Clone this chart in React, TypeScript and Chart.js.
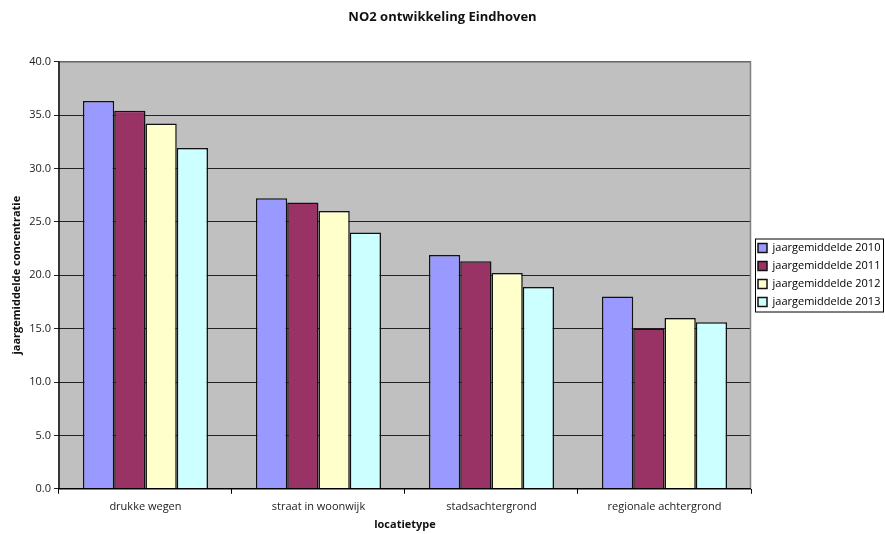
import React, { useEffect, useRef } from "react";
import { Chart, registerables } from "chart.js";

Chart.register(...registerables);

const categories = ["drukke wegen", "straat in woonwijk", "stadsachtergrond", "regionale achtergrond"];
const seriesLabels = ["jaargemiddelde 2010", "jaargemiddelde 2011", "jaargemiddelde 2012", "jaargemiddelde 2013"];
const values2010 = [36.3, 27.2, 21.9, 18.0];
const values2011 = [35.4, 26.8, 21.3, 15.0];
const values2012 = [34.2, 26.0, 20.2, 16.0];
const values2013 = [31.9, 24.0, 18.9, 15.6];
const seriesColors = ["#9999FF", "#993366", "#FFFFCC", "#CCFFFF"];

const FONT = "'Open Sans', 'DejaVu Sans', sans-serif";

const plotBg = {
  id: "plotBg",
  beforeDraw(chart: any) {
    const { ctx, chartArea: a } = chart;
    ctx.save();
    ctx.fillStyle = "#C0C0C0";
    ctx.fillRect(a.left, a.top, a.right - a.left, a.bottom - a.top);
    ctx.restore();
  },
  afterDatasetsDraw(chart: any) {
    const { ctx, chartArea: a } = chart;
    ctx.save();
    ctx.strokeStyle = "#808080";
    ctx.lineWidth = 1.5;
    ctx.beginPath();
    ctx.moveTo(a.left, a.top + 0.5);
    ctx.lineTo(a.right - 0.5, a.top + 0.5);
    ctx.lineTo(a.right - 0.5, a.bottom);
    ctx.stroke();
    ctx.strokeStyle = "#000";
    ctx.lineWidth = 1.5;
    ctx.beginPath();
    ctx.moveTo(a.left, a.top);
    ctx.lineTo(a.left, a.bottom);
    ctx.lineTo(a.right, a.bottom);
    ctx.stroke();
    ctx.restore();
  },
};

const legendBorder = {
  id: "legendBorder",
  afterDraw(chart: any) {
    const l = chart.legend;
    if (!l || !l.legendHitBoxes || !l.legendHitBoxes.length) return;
    const boxes = l.legendHitBoxes;
    const first = boxes[0];
    const last = boxes[boxes.length - 1];
    const left = first.left - 3;
    const top = first.top - 4;
    const bottom = last.top + last.height + 4;
    const right = chart.width - 1;
    const { ctx } = chart;
    ctx.save();
    ctx.strokeStyle = "#000";
    ctx.lineWidth = 1;
    ctx.strokeRect(left + 0.5, top + 0.5, right - left - 1, bottom - top);
    ctx.restore();
  },
};

export default function App() {
  const ref = useRef<HTMLCanvasElement>(null);
  useEffect(() => {
    const seriesValues = [values2010, values2011, values2012, values2013];
    const chart = new Chart(ref.current!, {
      type: "bar",
      data: {
        labels: categories,
        datasets: seriesLabels.map((label, i) => ({
          label,
          data: seriesValues[i],
          backgroundColor: seriesColors[i],
          borderColor: "#111",
          borderWidth: 1.5,
          categoryPercentage: 0.723,
          barPercentage: 1,
        })),
      },
      options: {
        animation: false,
        responsive: false,
        layout: { padding: { left: 0, right: 0, top: 0, bottom: 2 } },
        plugins: {
          title: {
            display: true,
            text: "NO2 ontwikkeling Eindhoven",
            color: "#111",
            font: { family: FONT, size: 13, weight: "bold" },
            padding: { top: 9, bottom: 37 },
          },
          legend: {
            position: "right",
            maxWidth: 134,
            title: { display: true, text: " ", font: { size: 10 }, padding: 3 },
            labels: {
              color: "#000",
              font: { family: FONT, size: 11 },
              boxWidth: 9,
              boxHeight: 9,
              padding: 7,
            },
          },
          tooltip: { enabled: false },
        },
        scales: {
          x: {
            grid: {
              drawOnChartArea: false,
              drawTicks: true,
              tickLength: 5,
              color: "#000",
              offset: true,
            },
            border: { display: false },
            ticks: { color: "#222", font: { family: FONT, size: 11 }, padding: 6 },
            title: {
              display: true,
              text: "locatietype",
              color: "#111",
              font: { family: FONT, size: 11, weight: "bold", lineHeight: 1 },
              padding: { top: 0, bottom: 2 },
            },
          },
          y: {
            min: 0,
            max: 40,
            grid: { color: "#222", lineWidth: 1, tickLength: 5 },
            border: { display: false },
            ticks: {
              stepSize: 5,
              color: "#222",
              font: { family: FONT, size: 11 },
              padding: 3,
              callback: (v: any) => Number(v).toFixed(1),
            },
            title: {
              display: true,
              text: "jaargemiddelde concentratie",
              color: "#111",
              font: { family: FONT, size: 11, weight: "bold" },
              padding: { top: 10, bottom: 3 },
            },
          },
        },
      },
      plugins: [plotBg, legendBorder],
    });
    return () => chart.destroy();
  }, []);
  return (
    <div style={{ position: "absolute", left: 0, top: 0, width: 885, height: 534, background: "#fff" }}>
      <canvas ref={ref} width={885} height={534} />
    </div>
  );
}
